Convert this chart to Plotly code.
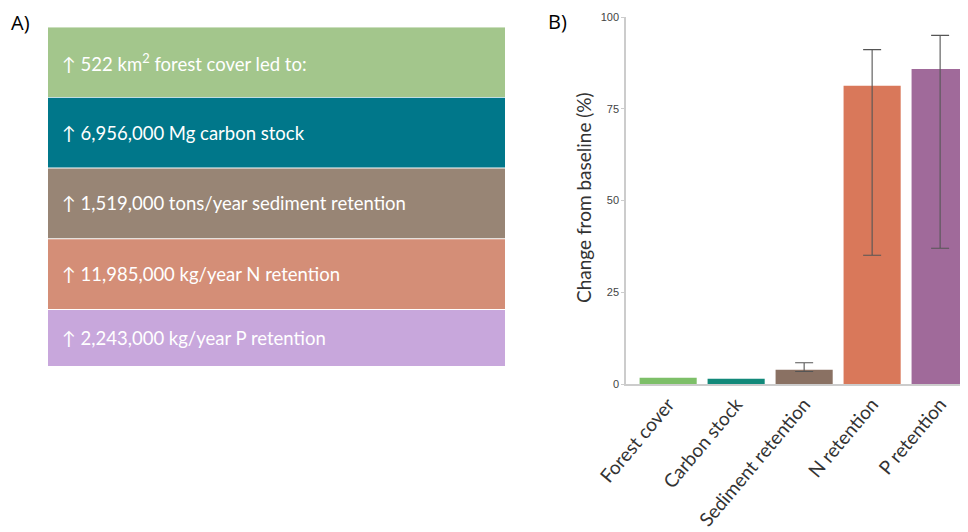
import plotly.graph_objects as go

# ---------------- data ----------------
# Panel A: summary statements
statements = [
    "↑ 522 km<sup>2</sup> forest cover led to:",
    "↑ 6,956,000 Mg carbon stock",
    "↑ 1,519,000 tons/year sediment retention",
    "↑ 11,985,000 kg/year N retention",
    "↑ 2,243,000 kg/year P retention",
]
# Panel B: change from baseline (%)
categories = ["Forest cover", "Carbon stock", "Sediment retention", "N retention", "P retention"]
values = [1.7, 1.4, 3.9, 81.3, 85.8]
upper = [None, None, 5.8, 91.1, 95.0]
lower = [None, None, 3.4, 35.1, 37.0]
y_ticks = [0, 25, 50, 75, 100]

# ---------------- styles ----------------
row_colors = ["#a3c68c", "#00778a", "#988575", "#d48e77", "#c8a7dc"]
bar_colors = ["#7dbf68", "#12897a", "#8a7163", "#d9785a", "#a06a9a"]
row_tops = [27.3, 97.8, 168.4, 239.2, 310.0]
row_bottoms = [97.0, 167.6, 238.2, 309.0, 366.0]

# page offset from default body margin
OFF = 8
W, H = 968 - OFF, 532 - OFF

def px_x(p):
    return (p - OFF) / W

def px_y(p):
    return 1 - (p - OFF) / H

# error bars only where bounds exist
eb_idx = [i for i, u in enumerate(upper) if u is not None]
eb_x = [categories[i] for i in eb_idx]
eb_y = [values[i] for i in eb_idx]
eb_plus = [upper[i] - values[i] for i in eb_idx]
eb_minus = [values[i] - lower[i] for i in eb_idx]

fig = go.Figure()

# Panel A boxes as horizontal bars
fig.add_trace(go.Bar(
    x=[1] * len(statements),
    y=[(t + b) / 2 for t, b in zip(row_tops, row_bottoms)],
    width=[b - t for t, b in zip(row_tops, row_bottoms)],
    orientation="h",
    marker=dict(color=row_colors, line=dict(width=0)),
    xaxis="x2", yaxis="y2",
    hoverinfo="skip",
    showlegend=False,
))

# Panel B bars
fig.add_trace(go.Bar(
    x=categories,
    y=values,
    marker=dict(color=bar_colors, line=dict(width=0)),
    showlegend=False,
))

# Panel B error bars
fig.add_trace(go.Scatter(
    x=eb_x, y=eb_y, mode="markers",
    marker=dict(size=0.1, opacity=0),
    error_y=dict(type="data", symmetric=False, array=eb_plus, arrayminus=eb_minus,
                 color="#555555", thickness=1.1, width=9),
    showlegend=False, hoverinfo="skip",
))

annotations = []
for s, t, b in zip(statements, row_tops, row_bottoms):
    annotations.append(dict(
        text=s, x=0.026, y=(t + b) / 2, xref="x2", yref="y2",
        xanchor="left", yanchor="middle", showarrow=False,
        font=dict(family="Lato", size=18.5, color="white"),
    ))

annotations += [
    dict(text="A)", x=px_x(9), y=px_y(23), xref="paper", yref="paper",
         xanchor="left", yanchor="middle", showarrow=False,
         font=dict(family="Open Sans", size=20, color="black")),
    dict(text="B)", x=px_x(546), y=px_y(22), xref="paper", yref="paper",
         xanchor="left", yanchor="middle", showarrow=False,
         font=dict(family="Open Sans", size=20, color="black")),
    dict(text="Change from baseline (%)", x=px_x(583), y=px_y(198), xref="paper", yref="paper",
         xanchor="center", yanchor="middle", textangle=-90, showarrow=False,
         font=dict(family="Lato", size=19, color="#333333")),
]

fig.update_layout(
    width=W, height=H,
    margin=dict(l=0, r=0, t=0, b=0, pad=0),
    paper_bgcolor="white", plot_bgcolor="white",
    bargap=0.16,
    xaxis=dict(
        domain=[px_x(626), 1], range=[-0.62, 4.41], automargin=False,
        showgrid=False, zeroline=False,
        showline=True, linecolor="#cccccc", linewidth=1.5,
        ticks="", tickangle=-50,
        tickfont=dict(family="Lato", size=19, color="#333333"),
    ),
    yaxis=dict(
        domain=[px_y(384), px_y(17)], range=[0, 100], automargin=False,
        tickvals=y_ticks, showgrid=False, zeroline=False,
        showline=True, linecolor="#cccccc", linewidth=1.5,
        ticks="outside", ticklen=3, tickcolor="#cccccc",
        tickfont=dict(family="Liberation Sans", size=11, color="#444444"),
    ),
    xaxis2=dict(
        domain=[px_x(48), px_x(505)], range=[0, 1], anchor="y2", automargin=False,
        visible=False, fixedrange=True,
    ),
    yaxis2=dict(
        domain=[px_y(366), px_y(27.3)], range=[366, 27.3], anchor="x2", automargin=False,
        visible=False, fixedrange=True,
    ),
    annotations=annotations,
)

fig.write_html("out.html")
